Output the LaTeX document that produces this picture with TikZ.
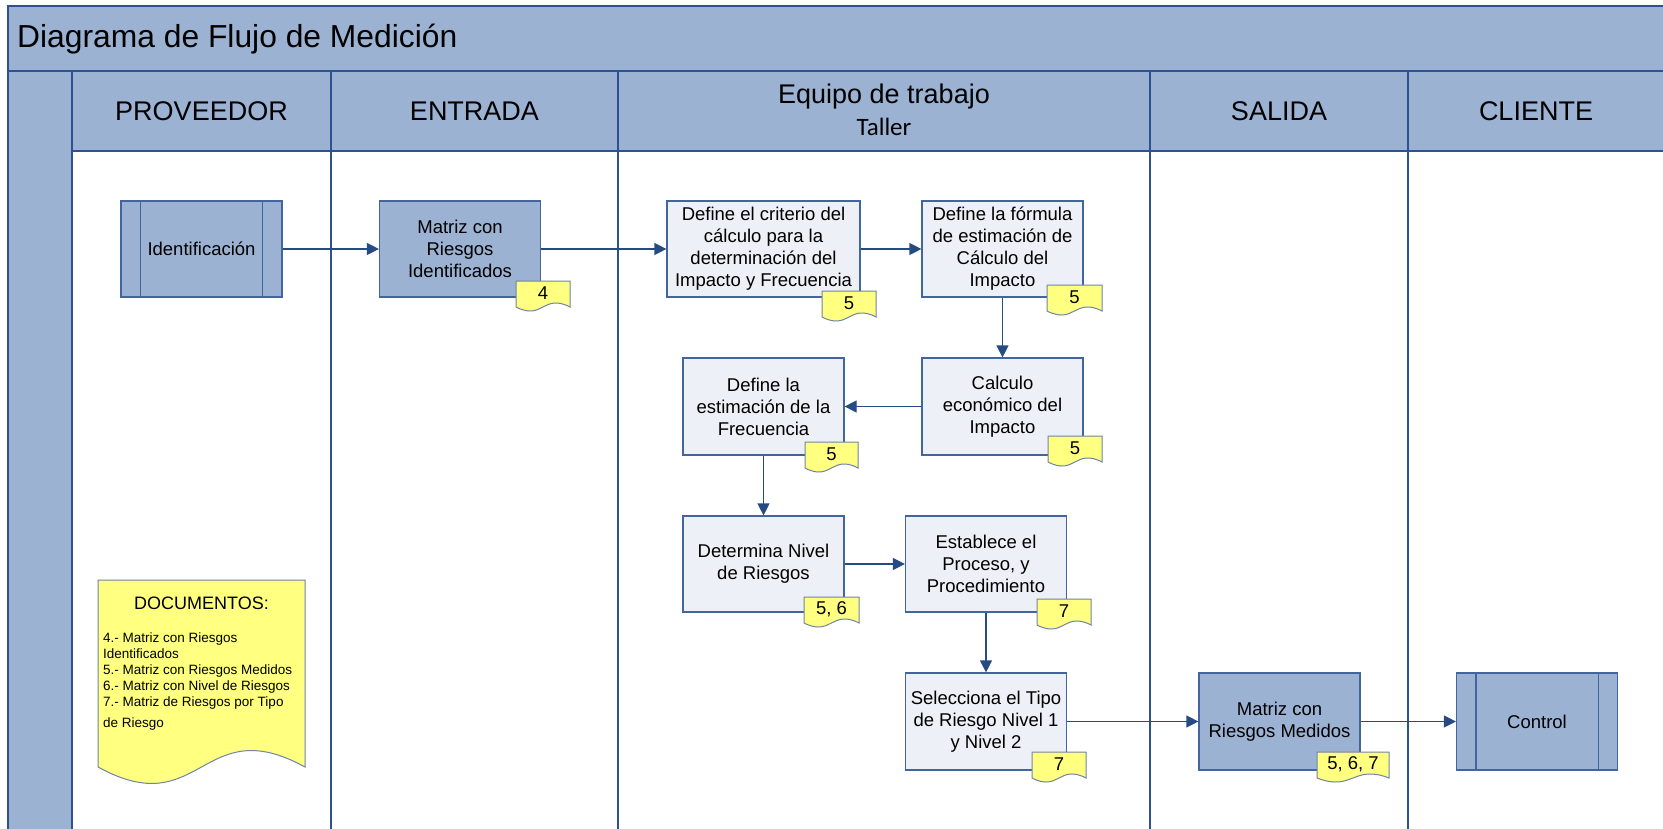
\documentclass[tikz,border=0pt]{standalone}
\usepackage{fontspec}
\setmainfont{Liberation Sans}
\newfontfamily\calibrifont{Carlito}
\usetikzlibrary{arrows.meta}

\definecolor{lanefill}{RGB}{155,178,210}
\definecolor{frameline}{RGB}{46,82,145}
\definecolor{boxfill}{RGB}{237,240,246}
\definecolor{boxline}{RGB}{66,101,158}
\definecolor{flowline}{RGB}{38,74,130}
\definecolor{tagfill}{RGB}{255,255,128}
\definecolor{tagline}{RGB}{112,132,165}

% document-shaped tag with a wavy lower edge: name, left x, top y, width, text
\newcommand\doctag[5]{%
  \draw[tagshape] (#2,#3) -- (#2+#4,#3) -- (#2+#4,#3+26)
    .. controls (#2+0.5*#4,#3+12) and (#2+0.5*#4,#3+40) .. (#2,#3+26) -- cycle;
  \node[tagtext] (#1) at (#2+0.5*#4,#3+12.5) {#5};
}

\begin{document}
\begin{tikzpicture}[x=1pt,y=-1pt,
  frame/.style={draw=frameline,line width=1.5pt},
  procbox/.style={draw=boxline,fill=boxfill,line width=1.2pt,align=center,
    inner sep=0pt,minimum width=161pt,minimum height=96pt,
    font=\fontsize{18.5}{22}\selectfont},
  iobox/.style={procbox,fill=lanefill},
  predef/.style={iobox},
  flow/.style={draw=flowline,line width=1.2pt,-{Triangle[length=12pt,width=12pt]}},
  tagshape/.style={draw=tagline,fill=tagfill,line width=1pt},
  tagtext/.style={inner sep=0pt,font=\fontsize{18.5}{20}\selectfont},
  lanehead/.style={inner sep=0pt,font=\fontsize{27}{30}\selectfont}]
\useasboundingbox (0,0) rectangle (1663,829);
\fill[white] (0,0) rectangle (1663,829);

% pool title band, lane header row and left band
\fill[lanefill] (8,6) rectangle (1663,151);
\fill[lanefill] (8,71) rectangle (72,829);
\draw[frame] (8,829) -- (8,6) -- (1663,6);
\draw[frame] (8,71) -- (1663,71);
\draw[frame] (72,151) -- (1663,151);
\foreach \x in {72,331,618,1150,1408} \draw[frame] (\x,71) -- (\x,829);

% titles
\node[anchor=west,inner sep=0pt,font=\fontsize{31.8}{34}\selectfont] (title) at (17,39) {Diagrama de Flujo de Medición};
\node[lanehead] (hprov) at (201.5,111) {PROVEEDOR};
\node[lanehead] (hent) at (474.5,111) {ENTRADA};
\node[lanehead] (heq) at (884,97) {Equipo de trabajo};
\node[inner sep=0pt,font=\calibrifont\fontsize{25}{28}\selectfont] (htal) at (884,127) {Taller};
\node[lanehead] (hsal) at (1279,111) {SALIDA};
\node[lanehead] (hcli) at (1536,111) {CLIENTE};

% process steps
\node[predef] (ident) at (201.5,249) {Identificación};
\draw[boxline,line width=1.2pt] ([xshift=20pt]ident.north west) -- ([xshift=20pt]ident.south west);
\draw[boxline,line width=1.2pt] ([xshift=-20pt]ident.north east) -- ([xshift=-20pt]ident.south east);

\node[iobox] (matI) at (460,249) {Matriz con\\Riesgos\\Identificados};
\node[procbox,minimum width=193pt] (crit) at (763.5,249) {Define el criterio del\\cálculo para la\\determinación del\\Impacto y Frecuencia};
\node[procbox] (form) at (1002.5,249) {Define la fórmula\\de estimación de\\Cálculo del\\Impacto};
\node[procbox,minimum height=97pt] (calc) at (1002.5,406.5) {Calculo\\económico del\\Impacto};
\node[procbox,minimum height=97pt] (estim) at (763.5,406.5) {Define la\\estimación de la\\Frecuencia};
\node[procbox] (nivel) at (763.5,564) {Determina Nivel\\de Riesgos};
\node[procbox] (estab) at (986,564) {Establece el\\Proceso, y\\Procedimiento};
\node[procbox,minimum height=97pt] (selec) at (986,721.5) {Selecciona el Tipo\\de Riesgo Nivel 1\\y Nivel 2};
\node[iobox,minimum height=97pt] (matM) at (1279.5,721.5) {Matriz con\\Riesgos Medidos};
\node[predef,minimum height=97pt] (ctrl) at (1537,721.5) {Control};
\draw[boxline,line width=1.2pt] ([xshift=20pt]ctrl.north west) -- ([xshift=20pt]ctrl.south west);
\draw[boxline,line width=1.2pt] ([xshift=-20pt]ctrl.north east) -- ([xshift=-20pt]ctrl.south east);

% connectors
\draw[flow] (ident) -- (matI);
\draw[flow] (matI) -- (crit);
\draw[flow] (crit) -- (form);
\draw[flow] (form) -- (calc);
\draw[flow] (calc) -- (estim);
\draw[flow] (estim) -- (nivel);
\draw[flow] (nivel) -- (estab);
\draw[flow] (estab) -- (selec);
\draw[flow] (selec) -- (matM);
\draw[flow] (matM) -- (ctrl);

% document references
\doctag{t4}{516}{281}{54}{4}
\doctag{t5a}{822}{291}{54}{5}
\doctag{t5b}{1047}{285}{55}{5}
\doctag{t5c}{805}{442}{53}{5}
\doctag{t5d}{1048}{436}{54}{5}
\doctag{t56}{804}{597}{55}{5, 6}
\doctag{t7a}{1037}{599}{54}{7}
\doctag{t7b}{1032}{752}{54}{7}
\doctag{t567}{1317}{752}{72}{5, 6, 7}

% document list
\draw[tagshape] (98,580) -- (305,580) -- (305,767)
  .. controls (201.5,710) and (201.5,824) .. (98,767) -- cycle;
\node[inner sep=0pt,font=\fontsize{18}{20}\selectfont] (dochead) at (201.5,603) {DOCUMENTOS:};
\node[anchor=north west,inner sep=0pt,align=left,font=\fontsize{13.5}{16}\selectfont] (doclist) at (103,633)
  {4.- Matriz con Riesgos\\Identificados\\5.- Matriz con Riesgos Medidos\\6.- Matriz con Nivel de Riesgos\\7.- Matriz de Riesgos por Tipo\\[5pt]de Riesgo};
\end{tikzpicture}
\end{document}
